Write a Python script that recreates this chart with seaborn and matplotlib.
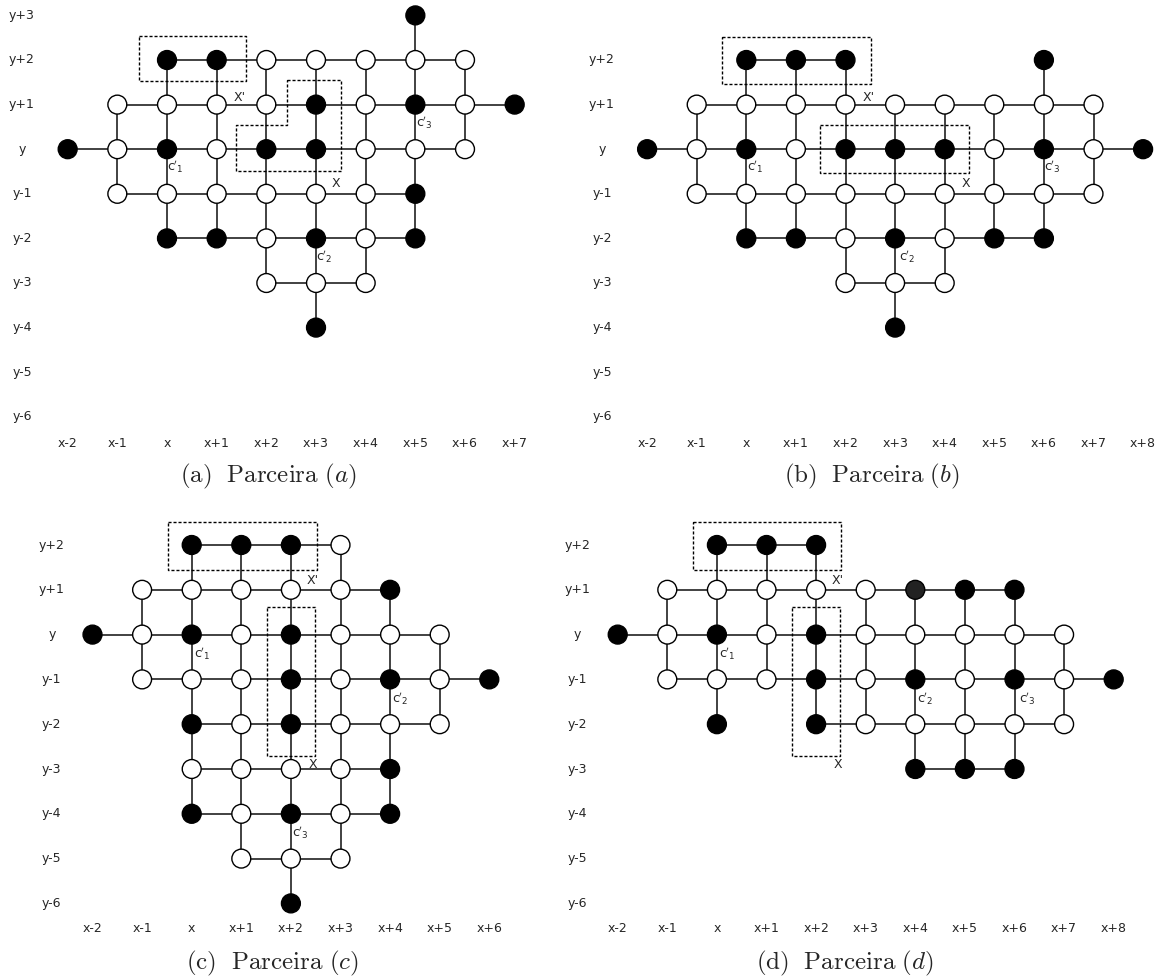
"""
plot.py
-------
Redraws the four "Parceira" lattice panels (a)-(d): nodes on a grid,
black/white colouring, induced grid edges, dashed groupings and labels.
"""
import matplotlib
matplotlib.use("Agg")
import matplotlib.pyplot as plt
import pandas as pd
import seaborn as sns


# ────────────────────────────────────────────────────────────────────────────
# Data  (one string per lattice row, first character is column x-2)
#   B = black node, W = white node, G = dark grey node, . = no node
# ────────────────────────────────────────────────────────────────────────────
ROWS_A = [3, 2, 1, 0, -1, -2, -3, -4]
NODES_A = [
    ".......B..",
    "..BBWWWWW.",
    ".WWWWBWBWB",
    "BWBWBBWWW.",
    ".WWWWWWB..",
    "..BBWBWB..",
    "....WWW...",
    ".....B....",
]

ROWS_B = [2, 1, 0, -1, -2, -3, -4]
NODES_B = [
    "..BBB...B..",
    ".WWWWWWWWW.",
    "BWBWBBBWBWB",
    ".WWWWWWWWW.",
    "..BBWBWBB..",
    "....WWW....",
    ".....B.....",
]

ROWS_C = [2, 1, 0, -1, -2, -3, -4, -5, -6]
NODES_C = [
    "..BBBW...",
    ".WWWWWB..",
    "BWBWBWWW.",
    ".WWWBWBWB",
    "..BWBWWW.",
    "..WWWWB..",
    "..BWBWB..",
    "...WWW...",
    "....B....",
]

ROWS_D = [2, 1, 0, -1, -2, -3]
NODES_D = [
    "..BBB......",
    ".WWWWWGBB..",
    "BWBWBWWWWW.",
    ".WWWBWBWBWB",
    "..B.BWWWWW.",
    "......BBB..",
]

# axis label ranges (rows top->bottom, columns left->right)
YLAB_A = list(range(3, -7, -1))
YLAB_BCD = list(range(2, -7, -1))
XLAB_A = list(range(-2, 8))
XLAB_B = list(range(-2, 9))
XLAB_C = list(range(-2, 7))
XLAB_D = list(range(-2, 9))

# dashed groupings, in lattice units
BOXES_A = [
    [(-0.57, 2.54), (1.60, 2.54), (1.60, 1.52), (-0.57, 1.52)],
    [(2.41, 1.56), (3.50, 1.56), (3.50, -0.50), (1.39, -0.50),
     (1.39, 0.54), (2.41, 0.54)],
]
BOXES_B = [
    [(-0.48, 2.52), (2.51, 2.52), (2.51, 1.46), (-0.48, 1.46)],
    [(1.49, 0.55), (4.48, 0.55), (4.48, -0.53), (1.49, -0.53)],
]
BOXES_C = [
    [(-0.47, 2.52), (2.52, 2.52), (2.52, 1.44), (-0.47, 1.44)],
    [(1.52, 0.61), (2.49, 0.61), (2.49, -2.70), (1.52, -2.70)],
]
BOXES_D = [
    [(-0.48, 2.52), (2.51, 2.52), (2.51, 1.44), (-0.48, 1.44)],
    [(1.51, 0.61), (2.48, 0.61), (2.48, -2.70), (1.51, -2.70)],
]

# text labels (text, column, row)
TAGS_A = [("X'", 1.46, 1.16), ("X", 3.41, -0.77),
          (r"$\mathrm{c}'_{1}$", 0.17, -0.40), (r"$\mathrm{c}'_{2}$", 3.16, -2.42),
          (r"$\mathrm{c}'_{3}$", 5.18, 0.60)]
TAGS_B = [("X'", 2.47, 1.16), ("X", 4.42, -0.77),
          (r"$\mathrm{c}'_{1}$", 0.18, -0.40), (r"$\mathrm{c}'_{2}$", 3.25, -2.42),
          (r"$\mathrm{c}'_{3}$", 6.18, -0.40)]
TAGS_C = [("X'", 2.44, 1.20), ("X", 2.44, -2.90),
          (r"$\mathrm{c}'_{1}$", 0.22, -0.43), (r"$\mathrm{c}'_{2}$", 4.21, -1.43),
          (r"$\mathrm{c}'_{3}$", 2.20, -4.43)]
TAGS_D = [("X'", 2.44, 1.20), ("X", 2.44, -2.90),
          (r"$\mathrm{c}'_{1}$", 0.20, -0.43), (r"$\mathrm{c}'_{2}$", 4.20, -1.43),
          (r"$\mathrm{c}'_{3}$", 6.25, -1.43)]

CAPTIONS = [r"$\mathrm{(a)}\ \ \mathrm{Parceira}\ (a)$",
            r"$\mathrm{(b)}\ \ \mathrm{Parceira}\ (b)$",
            r"$\mathrm{(c)}\ \ \mathrm{Parceira}\ (c)$",
            r"$\mathrm{(d)}\ \ \mathrm{Parceira}\ (d)$"]

NODE_COLOURS = {"B": "black", "W": "white", "G": "#222222"}

# ────────────────────────────────────────────────────────────────────────────
# Layout (pixels of the 1157x980 canvas)
# ────────────────────────────────────────────────────────────────────────────
FIG_W, FIG_H = 1157, 980

PANELS = [
    dict(rows=ROWS_A, nodes=NODES_A, ylab=YLAB_A, xlab=XLAB_A, boxes=BOXES_A,
         tags=TAGS_A, quad=(0, 0, 570, 490), x0=167.0, dx=49.67,
         y0=149.2, dy=44.6, ylab_col=-2.92, xlab_row=-6.60, cap=(268, 476)),
    dict(rows=ROWS_B, nodes=NODES_B, ylab=YLAB_BCD, xlab=XLAB_B, boxes=BOXES_B,
         tags=TAGS_B, quad=(570, 0, 587, 490), x0=746.3, dx=49.6,
         y0=149.2, dy=44.6, ylab_col=-2.91, xlab_row=-6.60, cap=(872, 476)),
    dict(rows=ROWS_C, nodes=NODES_C, ylab=YLAB_BCD, xlab=XLAB_C, boxes=BOXES_C,
         tags=TAGS_C, quad=(0, 490, 570, 490), x0=191.7, dx=49.6,
         y0=634.6, dy=44.8, ylab_col=-2.82, xlab_row=-6.57, cap=(272, 963)),
    dict(rows=ROWS_D, nodes=NODES_D, ylab=YLAB_BCD, xlab=XLAB_D, boxes=BOXES_D,
         tags=TAGS_D, quad=(570, 490, 587, 490), x0=716.9, dx=49.6,
         y0=634.6, dy=44.8, ylab_col=-2.81, xlab_row=-6.57, cap=(845, 963)),
]


def build_frame(rows, strings):
    """Turns the row strings into a (col, row, kind) table."""
    recs = []
    for r, s in zip(rows, strings):
        for i, ch in enumerate(s):
            if ch != ".":
                recs.append({"col": i - 2, "row": r, "kind": ch})
    return pd.DataFrame(recs)


def tick_text(prefix, k):
    return prefix if k == 0 else f"{prefix}{k:+d}"


def panel_axes(fig, p):
    left, top, w, h = p["quad"]
    ax = fig.add_axes([left / FIG_W, 1 - (top + h) / FIG_H, w / FIG_W, h / FIG_H])
    ax.set_xlim((left - p["x0"]) / p["dx"], (left + w - p["x0"]) / p["dx"])
    ax.set_ylim((p["y0"] - (top + h)) / p["dy"], (p["y0"] - top) / p["dy"])
    ax.set_axis_off()
    return ax


def draw_panel(ax, p):
    df = build_frame(p["rows"], p["nodes"])
    pts = set(zip(df["col"], df["row"]))

    # edges of the induced grid graph
    for c, r in sorted(pts):
        if (c + 1, r) in pts:
            ax.plot([c, c + 1], [r, r], color="#333333", lw=1.3, zorder=1,
                    solid_capstyle="butt")
        if (c, r + 1) in pts:
            ax.plot([c, c], [r, r + 1], color="#333333", lw=1.3, zorder=1,
                    solid_capstyle="butt")

    # dashed groupings
    for poly in p["boxes"]:
        xs = [q[0] for q in poly] + [poly[0][0]]
        ys = [q[1] for q in poly] + [poly[0][1]]
        ax.plot(xs, ys, color="black", lw=1.0, ls=(0, (2.2, 1.4)), zorder=2,
                clip_on=False)

    sns.scatterplot(data=df, x="col", y="row", hue="kind", palette=NODE_COLOURS,
                    s=185, edgecolor="black", linewidth=1.0, legend=False,
                    ax=ax, zorder=3, clip_on=False)

    for k in p["ylab"]:
        ax.text(p["ylab_col"], k, tick_text("y", k), ha="center", va="center",
                fontsize=9)
    for k in p["xlab"]:
        ax.text(k, p["xlab_row"], tick_text("x", k), ha="center", va="center",
                fontsize=9)

    for txt, c, r in p["tags"]:
        ax.text(c, r, txt, ha="center", va="center", fontsize=9,
                math_fontfamily="dejavusans")


def main():
    sns.set_theme(style="white")
    plt.rcParams["font.family"] = ["DejaVu Sans"]

    fig = plt.figure(figsize=(FIG_W / 100, FIG_H / 100), dpi=100)
    fig.patch.set_facecolor("white")

    for p, cap in zip(PANELS, CAPTIONS):
        ax = panel_axes(fig, p)
        draw_panel(ax, p)
        cx, cy = p["cap"]
        fig.text(cx / FIG_W, 1 - cy / FIG_H, cap, ha="center", va="center",
                 fontsize=18, math_fontfamily="cm")

    fig.savefig("out.png", dpi=100, facecolor="white")
    plt.close(fig)


if __name__ == "__main__":
    main()
